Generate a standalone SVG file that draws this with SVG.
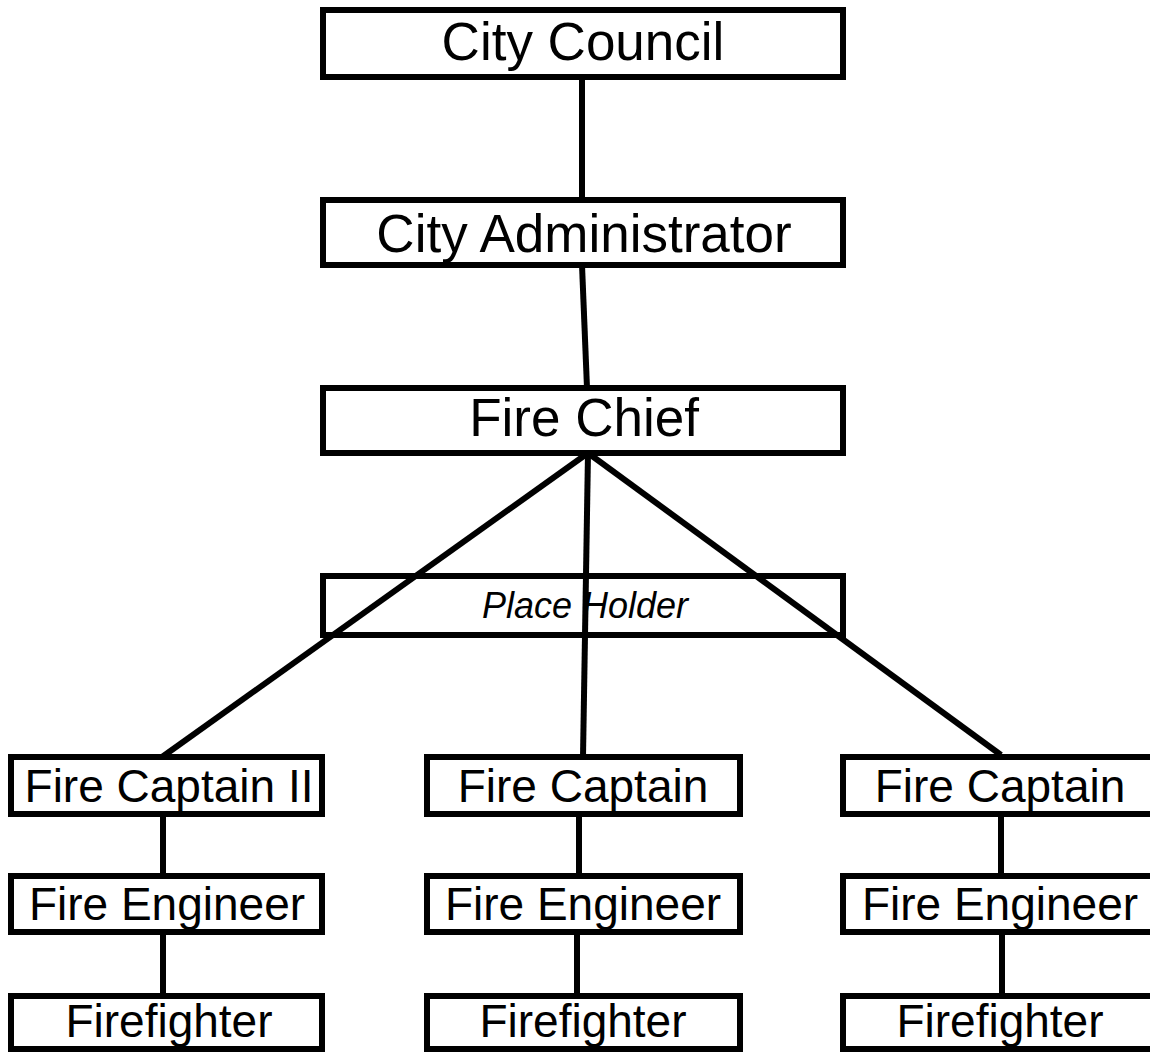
<svg xmlns="http://www.w3.org/2000/svg" width="1150" height="1052" viewBox="0 0 1150 1052">
<style>
.box{fill:#fff;stroke:#000;stroke-width:6}
.t{font-family:"Liberation Sans",Arial,sans-serif;fill:#000;text-anchor:middle}
.big{font-size:53px}
.mid{font-size:46px}
.ph{font-size:36px;font-style:italic}
.c{stroke:#000;stroke-width:6;fill:none}
</style>
<rect width="1150" height="1052" fill="#fff"/>
<g id="nodes-top">
<g id="city-council"><rect class="box" x="323" y="10" width="520" height="67"/><text class="t big" x="583" y="60">City Council</text></g>
<g id="city-administrator"><rect class="box" x="323" y="200" width="520" height="65"/><text class="t big" x="584" y="252">City Administrator</text></g>
<g id="fire-chief"><rect class="box" x="323" y="388" width="520" height="65"/><text class="t big" x="584" y="436">Fire Chief</text></g>
<g id="place-holder"><rect class="box" x="323" y="576" width="520" height="59"/><text class="t ph" x="585" y="618">Place Holder</text></g>
</g>
<g id="connectors">
<line class="c" x1="582" y1="77" x2="582" y2="200"/>
<line class="c" x1="582" y1="265" x2="587" y2="388"/>
<line class="c" x1="588" y1="453" x2="162" y2="757"/>
<line class="c" x1="588" y1="453" x2="583" y2="757"/>
<line class="c" x1="588" y1="453" x2="1001" y2="755"/>
<line class="c" x1="163" y1="814" x2="163" y2="876"/>
<line class="c" x1="163" y1="932" x2="163" y2="996"/>
<line class="c" x1="579" y1="814" x2="579" y2="876"/>
<line class="c" x1="577" y1="932" x2="577" y2="996"/>
<line class="c" x1="1001" y1="814" x2="1001" y2="876"/>
<line class="c" x1="1002" y1="932" x2="1002" y2="996"/>
</g>
<g id="captain-2"><rect class="box" x="11" y="757" width="311" height="57"/><text class="t mid" x="169" y="802">Fire Captain II</text></g>
<g id="captain-mid"><rect class="box" x="427" y="757" width="313" height="57"/><text class="t mid" x="583" y="802">Fire Captain</text></g>
<g id="captain-right"><rect class="box" x="843" y="757" width="313" height="57"/><text class="t mid" x="1000" y="802">Fire Captain</text></g>
<g id="engineer-left"><rect class="box" x="11" y="876" width="311" height="56"/><text class="t mid" x="167" y="920">Fire Engineer</text></g>
<g id="engineer-mid"><rect class="box" x="427" y="876" width="313" height="56"/><text class="t mid" x="583" y="920">Fire Engineer</text></g>
<g id="engineer-right"><rect class="box" x="843" y="876" width="313" height="56"/><text class="t mid" x="1000" y="920">Fire Engineer</text></g>
<g id="firefighter-left"><rect class="box" x="11" y="996" width="311" height="53"/><text class="t mid" x="169" y="1037">Firefighter</text></g>
<g id="firefighter-mid"><rect class="box" x="427" y="996" width="313" height="53"/><text class="t mid" x="583" y="1037">Firefighter</text></g>
<g id="firefighter-right"><rect class="box" x="843" y="996" width="313" height="53"/><text class="t mid" x="1000" y="1037">Firefighter</text></g>
</svg>
